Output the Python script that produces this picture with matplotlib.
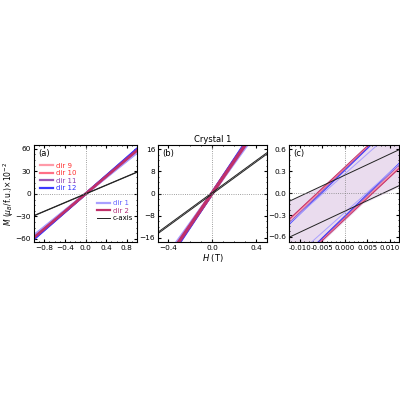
import matplotlib
matplotlib.use("Agg")
import matplotlib.pyplot as plt
import numpy as np

labels = ["dir 9", "dir 10", "dir 11", "dir 12", "dir 1", "dir 2", "c-axis"]
colors = ["#ff9aa8", "#ff6f86", "#9b59b6", "#3a3aff", "#a9a0ff", "#c0306a", "#222222"]
text_colors = ["#ff3030", "#ff3030", "#8a3fb0", "#3030ff", "#6060ff", "#b0307a", "#000000"]
slopes = [58, 57, 59, 60, 55, 58, 29]            # 10^-2 mu_B/f.u. per T
coercive = [0.0058, 0.006, 0.0055, 0.0052, 0.0048, 0.0062, 0.0085]  # T
Hends = np.array([-1.0, 1.0])

fig = plt.figure(figsize=(4, 4), dpi=100)
axa = fig.add_axes([0.085, 0.395, 0.258, 0.2425])
axb = fig.add_axes([0.395, 0.395, 0.2725, 0.2425])
axc = fig.add_axes([0.7225, 0.395, 0.275, 0.2425])

for ax, lw in [(axa, 1.6), (axb, 1.6), (axc, 0.7)]:
    for s, hc, c, l in zip(slopes, coercive, colors, labels):
        w = lw if l != "c-axis" else 0.7
        ax.plot(Hends, s * (Hends + hc), color=c, lw=w, label=l)
        ax.plot(Hends, s * (Hends - hc), color=c, lw=w)
    ax.axhline(0, color="gray", ls=":", lw=0.6)
    ax.axvline(0, color="gray", ls=":", lw=0.6)
    ax.tick_params(direction="in", top=True, right=True, labelsize=5.3, length=2, pad=2)
    ax.minorticks_on()
    ax.tick_params(which="minor", direction="in", top=True, right=True, length=1)

Hf = np.linspace(-0.013, 0.013, 200)
up = np.max([s * (Hf + hc) for s, hc in zip(slopes, coercive)], axis=0)
lo = np.min([s * (Hf - hc) for s, hc in zip(slopes, coercive)], axis=0)
axc.fill_between(Hf, lo, up, color="#eadcee", zorder=0)

axa.set_xlim(-1, 1); axa.set_ylim(-64, 65)
axa.set_xticks([-0.8, -0.4, 0.0, 0.4, 0.8]); axa.set_yticks([-60, -30, 0, 30, 60])
axb.set_xlim(-0.49, 0.5); axb.set_ylim(-17.5, 17.5)
axb.set_xticks([-0.4, 0.0, 0.4]); axb.set_yticks([-16, -8, 0, 8, 16])
axc.set_xlim(-0.0124, 0.012); axc.set_ylim(-0.67, 0.66)
axc.set_xticks([-0.010, -0.005, 0.0, 0.005, 0.010]); axc.set_yticks([-0.6, -0.3, 0.0, 0.3, 0.6])
axc.xaxis.set_major_formatter(matplotlib.ticker.FormatStrFormatter("%.3f"))
axc.tick_params(axis="x", labelsize=5)

for ax, t in [(axa, "(a)"), (axb, "(b)"), (axc, "(c)")]:
    ax.text(0.04, 0.96, t, transform=ax.transAxes, fontsize=6, va="top")

axa.set_ylabel(r"$M$ ($\mu_B$/f.u.)$\times$10$^{-2}$", fontsize=5.5, labelpad=0)
axb.set_xlabel(r"$H$ (T)", fontsize=6, labelpad=1)
axb.set_title("Crystal 1", fontsize=6, pad=2)

h, l = axa.get_legend_handles_labels()
leg1 = axa.legend(h[:4], l[:4], loc="upper left", bbox_to_anchor=(0.0, 0.88), fontsize=5,
                  frameon=False, handlelength=1.8, labelspacing=0.2, handletextpad=0.4)
for t, c in zip(leg1.get_texts(), text_colors[:4]):
    t.set_color(c)
axa.add_artist(leg1)
leg2 = axa.legend(h[4:], l[4:], loc="lower right", bbox_to_anchor=(1.02, 0.15), fontsize=5,
                  frameon=False, handlelength=1.8, labelspacing=0.2, handletextpad=0.4)
for t, c in zip(leg2.get_texts(), text_colors[4:]):
    t.set_color(c)

fig.savefig("out.png", dpi=100)
